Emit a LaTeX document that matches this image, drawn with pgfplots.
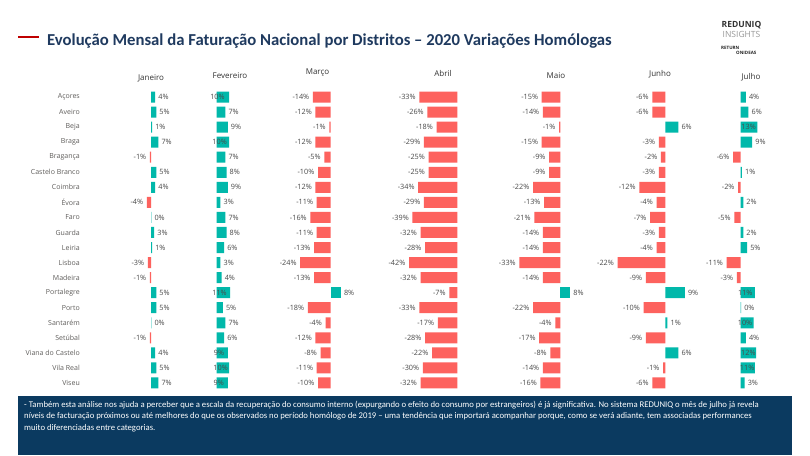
\documentclass[border=0pt]{standalone}
\usepackage{pgfplots}
\pgfplotsset{compat=1.18}
\usepackage{pgfplotstable}
\usepackage{fontspec}
\setmainfont{Open Sans}
\newfontfamily\calib{Carlito}
\definecolor{tealc}{HTML}{01B8AA}
\definecolor{redc}{HTML}{FD625E}
\definecolor{titlec}{HTML}{1F3A5F}
\definecolor{boxc}{HTML}{0B3A60}
\definecolor{catc}{HTML}{605E5C}
\definecolor{lblc}{HTML}{4A4A4A}
\definecolor{hdrc}{HTML}{333333}
\newcommand{\lblfont}{\fontsize{7.3}{8}\selectfont}

% columns: y (19 = Acores ... 0 = Viseu), v = variation in %, in = label inside bar, lx = x of inside label
\pgfplotstableread{
y v in lx
19 4 0 0
18 5 0 0
17 1 0 0
16 7 0 0
15 -1 0 0
14 5 0 0
13 4 0 0
12 -4 0 0
11 0.3 0 0
10 3 0 0
9 1 0 0
8 -3 0 0
7 -1 0 0
6 5 0 0
5 5 0 0
4 0.3 0 0
3 -1 0 0
2 4 0 0
1 5 0 0
0 7 0 0
}\janT
\pgfplotstableread{
y v in lx
19 10 1 0.6
18 7 0 0
17 9 0 0
16 10 1 2.4
15 7 0 0
14 8 0 0
13 9 0 0
12 3 0 0
11 7 0 0
10 8 0 0
9 6 0 0
8 3 0 0
7 4 0 0
6 11 1 2.3
5 5 0 0
4 7 0 0
3 6 0 0
2 9 1 1.9
1 10 1 3.2
0 9 1 1.6
}\febT
\pgfplotstableread{
y v in lx
19 -14 0 0
18 -12 0 0
17 -1 0 0
16 -12 0 0
15 -5 0 0
14 -10 0 0
13 -12 0 0
12 -11 0 0
11 -16 0 0
10 -11 0 0
9 -13 0 0
8 -24 0 0
7 -13 0 0
6 8 0 0
5 -18 0 0
4 -4 0 0
3 -12 0 0
2 -8 0 0
1 -11 0 0
0 -10 0 0
}\marT
\pgfplotstableread{
y v in lx
19 -33 0 0
18 -26 0 0
17 -18 0 0
16 -29 0 0
15 -25 0 0
14 -25 0 0
13 -34 0 0
12 -29 0 0
11 -39 0 0
10 -32 0 0
9 -28 0 0
8 -42 0 0
7 -32 0 0
6 -7 0 0
5 -33 0 0
4 -17 0 0
3 -28 0 0
2 -22 0 0
1 -30 0 0
0 -32 0 0
}\abrT
\pgfplotstableread{
y v in lx
19 -15 0 0
18 -14 0 0
17 -1 0 0
16 -15 0 0
15 -9 0 0
14 -9 0 0
13 -22 0 0
12 -13 0 0
11 -21 0 0
10 -14 0 0
9 -14 0 0
8 -33 0 0
7 -14 0 0
6 8 0 0
5 -22 0 0
4 -4 0 0
3 -17 0 0
2 -8 0 0
1 -14 0 0
0 -16 0 0
}\maiT
\pgfplotstableread{
y v in lx
19 -6 0 0
18 -6 0 0
17 6 0 0
16 -3 0 0
15 -2 0 0
14 -3 0 0
13 -12 0 0
12 -4 0 0
11 -7 0 0
10 -3 0 0
9 -4 0 0
8 -22 0 0
7 -9 0 0
6 9 0 0
5 -10 0 0
4 1 0 0
3 -9 0 0
2 6 0 0
1 -1 0 0
0 -6 0 0
}\junT
\pgfplotstableread{
y v in lx
19 4 0 0
18 6 0 0
17 13 1 6.2
16 9 0 0
15 -6 0 0
14 1 0 0
13 -2 0 0
12 2 0 0
11 -5 0 0
10 2 0 0
9 5 0 0
8 -11 0 0
7 -3 0 0
6 11 1 3.6
5 0.3 0 0
4 10 1 3.4
3 4 0 0
2 12 1 6.0
1 11 1 5.0
0 3 0 0
}\julT

\pgfplotsset{
  panel/.style={
    x=#1pt, y=15.05pt, ymin=-0.5, ymax=19.5, xmin=-10, xmax=10,
    anchor=south west, clip=false, enlargelimits=false,
    hide axis,
    /pgf/number format/assume math mode=true,
  },
  barbase/.style={xbar, bar shift=0pt, bar width=11pt, draw=none, point meta=x},
  % positive bars with the label outside
  posbar/.style={barbase, fill=tealc,
    restrict expr to domain={\thisrow{v}*(1-\thisrow{in})}{0.01:100},
    nodes near coords={\pgfmathprintnumber[fixed,precision=0]{\pgfplotspointmeta}\%},
    nodes near coords style={anchor=west, inner sep=1pt, xshift=2pt, font=\lblfont, text=lblc}},
  % positive bars whose label sits inside the bar
  posbarin/.style={barbase, fill=tealc,
    restrict expr to domain={\thisrow{v}*\thisrow{in}}{0.01:100}},
  negbar/.style={barbase, fill=redc,
    restrict expr to domain={\thisrow{v}}{-100:-0.01},
    nodes near coords={\pgfmathprintnumber[fixed,precision=0]{\pgfplotspointmeta}\%},
    nodes near coords style={anchor=east, inner sep=1pt, xshift=-2.5pt, font=\lblfont, text=lblc}},
  inlbl/.style={draw=none, mark=none, point meta=explicit,
    restrict expr to domain={\thisrow{in}}{0.5:1.5},
    nodes near coords={\pgfmathprintnumber[fixed,precision=0]{\pgfplotspointmeta}\%},
    nodes near coords style={anchor=center, inner sep=0pt, font=\lblfont, text=lblc}},
}

\begin{document}
\begin{tikzpicture}
\useasboundingbox (0pt,0pt) rectangle (810pt,455pt);
\fill[white] (0pt,0pt) rectangle (810pt,455pt);

% title
\fill[red!75!black] (18pt,417.2pt) rectangle (39pt,418.6pt);
\node[anchor=west, inner sep=0pt, text=titlec, font=\calib\bfseries\fontsize{16.7}{20}\selectfont] at (47pt,414pt)
  {Evolução Mensal da Faturação Nacional por Distritos – 2020 Variações Homólogas};

% logo
\node[anchor=center, inner sep=0pt, text=black!80, font=\bfseries\fontsize{8.5}{9}\selectfont] at (741.5pt,430pt) {REDUNIQ};
\node[anchor=center, inner sep=0pt, text=black!40, font=\fontsize{8.5}{9}\selectfont] at (741.5pt,421pt) {INSIGHTS};
\node[anchor=west, inner sep=0pt, text=black!85, font=\bfseries\fontsize{4.5}{5}\selectfont] at (721pt,407.5pt) {RETURN};
\node[anchor=west, inner sep=0pt, text=black!85, font=\bfseries\fontsize{4.5}{5}\selectfont] at (736pt,402.5pt) {ONIDEAS};

% month headers
\begin{scope}[every node/.style={inner sep=0pt, text=hdrc, font=\fontsize{8}{9}\selectfont}]
\node at (151pt,377pt) {Janeiro};
\node at (230pt,379pt) {Fevereiro};
\node at (317.5pt,382.7pt) {Março};
\node at (443pt,381pt) {Abril};
\node at (556pt,379.3pt) {Maio};
\node at (660pt,381pt) {Junho};
\node at (751pt,377.7pt) {Julho};
\end{scope}

% Janeiro (with district names)
\begin{axis}[panel=1.05, xmin=-67.62, at={(80pt,64.5pt)},
  hide axis=false, axis line style={draw=none}, tick style={draw=none},
  xtick=\empty, ytick={0,...,19},
  yticklabels={Viseu,Vila Real,Viana do Castelo,Setúbal,Santarém,Porto,Portalegre,Madeira,Lisboa,Leiria,Guarda,Faro,Évora,Coimbra,Castelo Branco,Bragança,Braga,Beja,Aveiro,Açores},
  yticklabel style={anchor=east, inner sep=0pt, font=\fontsize{7}{8}\selectfont, text=catc}]
\addplot[posbar] table[x=v,y=y] {\janT};
\addplot[negbar] table[x=v,y=y] {\janT};
\end{axis}

\begin{axis}[panel=1.23, at={(204.4pt,64.5pt)}]
\addplot[posbar] table[x=v,y=y] {\febT};
\addplot[posbarin] table[x=v,y=y] {\febT};
\addplot[inlbl] table[x=lx,y=y,meta=v] {\febT};
\end{axis}

\begin{axis}[panel=1.27, at={(318pt,64.5pt)}]
\addplot[posbar] table[x=v,y=y] {\marT};
\addplot[negbar] table[x=v,y=y] {\marT};
\end{axis}

\begin{axis}[panel=1.15, at={(445.8pt,64.5pt)}]
\addplot[negbar] table[x=v,y=y] {\abrT};
\end{axis}

\begin{axis}[panel=1.24, at={(547.9pt,64.5pt)}]
\addplot[posbar] table[x=v,y=y] {\maiT};
\addplot[negbar] table[x=v,y=y] {\maiT};
\end{axis}

\begin{axis}[panel=2.17, at={(643.6pt,64.5pt)}]
\addplot[posbar] table[x=v,y=y] {\junT};
\addplot[negbar] table[x=v,y=y] {\junT};
\end{axis}

\begin{axis}[panel=1.28, at={(727.9pt,64.5pt)}]
\addplot[posbar] table[x=v,y=y] {\julT};
\addplot[posbarin] table[x=v,y=y] {\julT};
\addplot[negbar] table[x=v,y=y] {\julT};
\addplot[inlbl] table[x=lx,y=y,meta=v] {\julT};
\end{axis}

% bottom commentary box
\fill[boxc] (18pt,0pt) rectangle (792pt,59pt);
\begin{scope}[every node/.style={anchor=west, inner sep=0pt, text=white, font=\calib\fontsize{8.7}{10}\selectfont}]
\node at (24pt,50pt) {- Também esta análise nos ajuda a perceber que a escala da recuperação do consumo interno (expurgando o efeito do consumo por estrangeiros) é já significativa. No sistema REDUNIQ o mês de julho já revela};
\node at (24pt,38.3pt) {níveis de facturação próximos ou até melhores do que os observados no período homólogo de 2019 – uma tendência que importará acompanhar porque, como se verá adiante, tem associadas performances};
\node at (24pt,26.8pt) {muito diferenciadas entre categorias.};
\end{scope}
\end{tikzpicture}
\end{document}
